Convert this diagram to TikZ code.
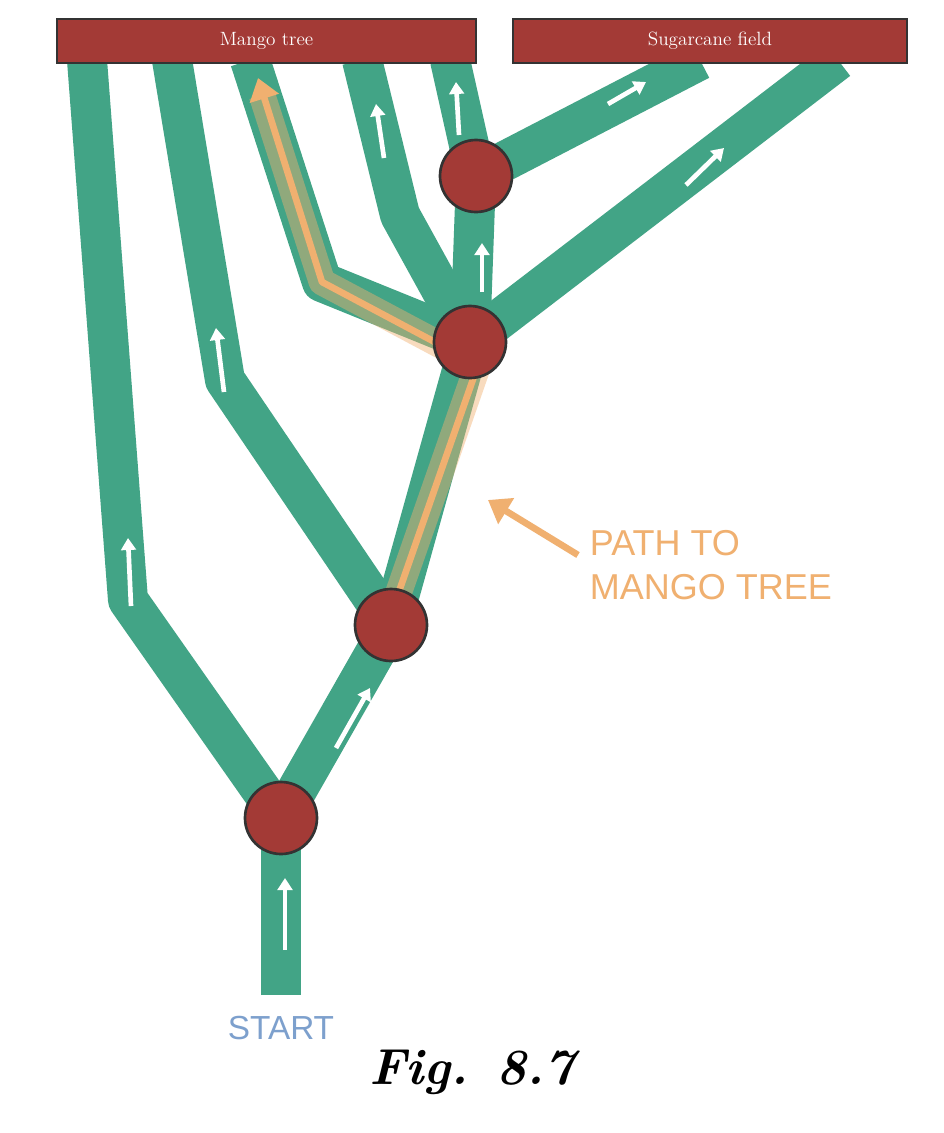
\documentclass[tikz,border=0pt]{standalone}
\usepackage{fontspec}
\newfontfamily\labelfont{Liberation Sans}
\usetikzlibrary{arrows.meta}
\definecolor{road}{RGB}{66,164,134}
\definecolor{stop}{RGB}{163,58,54}
\definecolor{glow}{RGB}{240,176,112}
\definecolor{startblue}{RGB}{125,160,205}
\tikzset{every picture/.style={line width=0.75pt},
  road/.style={draw=road,line width=30pt,line join=round},
  flow/.style={draw=white,line width=3.5pt,-{Triangle[length=9pt,width=11pt]}},
  stop/.style={circle,draw=black!80,line width=2pt,fill=stop,minimum size=54pt,inner sep=0pt},
  goal/.style={draw=black!80,line width=1.5pt,fill=stop,text=white,minimum height=33pt,inner sep=0pt,font=\Large}}

\begin{document}
\begin{tikzpicture}[x=0.75pt,y=0.75pt,yscale=-1,xscale=1]
	\useasboundingbox (0,0) rectangle (944,1133);
	\fill[white] (0,0) rectangle (944,1133);

	% junctions and road ends
	\coordinate (start) at (281,995);
	\coordinate (j1) at (281,818);
	\coordinate (j2) at (391,625);
	\coordinate (j3) at (470,342);
	\coordinate (j4) at (476,176);

	% roads
	\draw[road] (start) -- (j1);
	\draw[road] (j1) -- (128,600) -- (87,60);
	\draw[road] (j1) -- (j2);
	\draw[road] (j2) -- (225,380) -- (172,60);
	\draw[road] (j2) -- (j3);
	\draw[road] (j3) -- (322,282) -- (250,60);
	\draw[road] (j3) -- (400,215) -- (362,60);
	\draw[road] (j3) -- (j4);
	\draw[road] (j3) -- (838,60);
	\draw[road] (j4) -- (450,60);
	\draw[road] (j4) -- (700,60);

	% highlighted route
	\draw[glow,opacity=0.45,line width=20pt,line join=round] (396,600) -- (478,365) -- (322,282) -- (262,95);
	\draw[glow,line width=5pt,line join=round,-{Triangle[length=16pt,width=22pt]}] (396,600) -- (478,365) -- (322,282) -- (258,78);

	% white arrows
	\draw[flow] (285,950) -- (285,878);
	\draw[flow] (336,748) -- (370,688);
	\draw[flow] (131,606) -- (128,538);
	\draw[flow] (224,392) -- (216,328);
	\draw[flow] (384,158) -- (376,104);
	\draw[flow] (459,135) -- (456,82);
	\draw[flow] (482,292) -- (482,243);
	\draw[flow] (686,185) -- (724,148);
	\draw[flow] (608,104) -- (646,82);

	% stops
	\node[stop] (s1) at (j1) {};
	\node[stop] (s2) at (j2) {};
	\node[stop] (s3) at (j3) {};
	\node[stop] (s4) at (j4) {};

	% destinations
	\node[goal,minimum width=314pt] (mango) at (266.5,41) {Mango tree};
	\node[goal,minimum width=295pt] (cane) at (710,41) {Sugarcane field};

	% labels
	\node[font=\labelfont\fontsize{27}{33}\selectfont,text=glow,align=left,anchor=west] (note) at (585,565) {PATH TO\\MANGO TREE};
	\coordinate (notetip) at (488,500);
	\draw[glow,line width=5pt,-{Triangle[length=16pt,width=22pt]}] (578,555) -- (notetip);
	\node[font=\labelfont\fontsize{25}{30}\selectfont,text=startblue] (startlabel) at (281,1028) {START};
	\node[font=\bfseries\itshape\fontsize{38}{44}\selectfont] (fig) at (472,1072) {Fig. 8.7};

\end{tikzpicture}
\end{document}
